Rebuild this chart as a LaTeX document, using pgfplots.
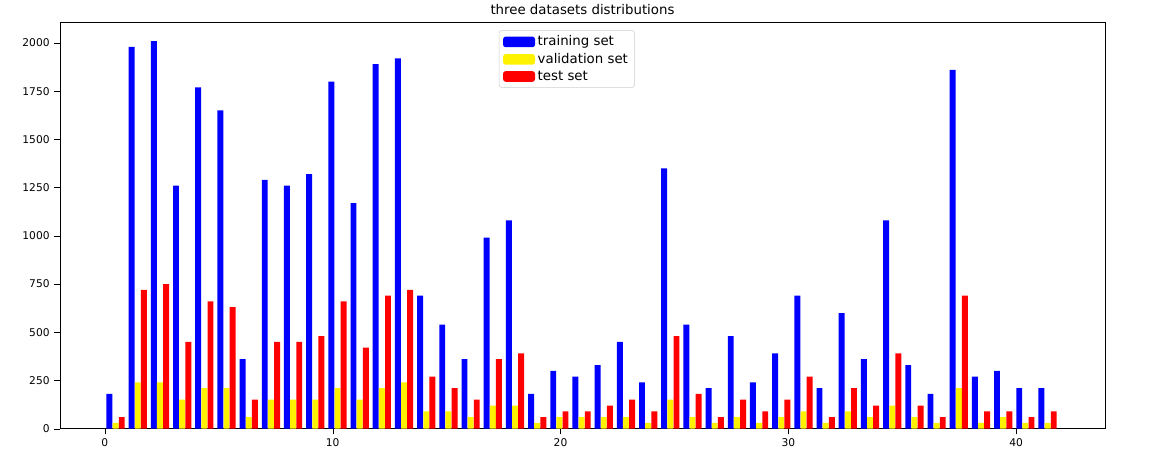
\documentclass[border=0pt]{standalone}
\usepackage{pgfplots}
\pgfplotsset{compat=1.18}
\usepackage{pgfplotstable}
\usepackage{fontspec}
\setmainfont{DejaVu Sans}
\pgfplotstableread{
train val test
180 30 60
1980 240 720
2010 240 750
1260 150 450
1770 210 660
1650 210 630
360 60 150
1290 150 450
1260 150 450
1320 150 480
1800 210 660
1170 150 420
1890 210 690
1920 240 720
690 90 270
540 90 210
360 60 150
990 120 360
1080 120 390
180 30 60
300 60 90
270 60 90
330 60 120
450 60 150
240 30 90
1350 150 480
540 60 180
210 30 60
480 60 150
240 30 90
390 60 150
690 90 270
210 30 60
599 90 210
360 60 120
1080 120 390
330 60 120
180 30 60
1860 210 690
270 30 90
300 60 90
210 30 60
210 30 90
}\data
\begin{document}
\begin{tikzpicture}
\path (-45pt,0) (820pt,0);
\begin{axis}[
  width=784pt, height=305pt, scale only axis,
  xmin=-1.97, xmax=43.9, ymin=0, ymax=2108,
  xtick={0,10,20,30,40}, ytick={0,250,500,750,1000,1250,1500,1750,2000},
  xtick pos=left, ytick pos=left,
  tick label style={font=\footnotesize}, /pgf/number format/assume math mode=true,
  /pgf/number format/1000 sep={},
  tick align=outside, tick style={black},
  title={three datasets distributions}, title style={font=\normalsize, yshift=-4pt},
  legend style={at={(0.485,0.98)}, anchor=north, font=\normalsize, draw=black!20, rounded corners=2pt, cells={anchor=west}},
]
\addplot[ybar, bar width=0.26, fill=blue, draw=none, legend image code/.code={\fill[blue] (0pt,-4pt) rectangle (24pt,4pt);}] table[x expr=\coordindex*0.974+0.2, y=train]{\data};
\addlegendentry{training set}
\addplot[ybar, bar width=0.26, fill=yellow, draw=none, legend image code/.code={\fill[yellow] (0pt,-4pt) rectangle (24pt,4pt);}] table[x expr=\coordindex*0.974+0.47, y=val]{\data};
\addlegendentry{validation set}
\addplot[ybar, bar width=0.26, fill=red, draw=none, legend image code/.code={\fill[red] (0pt,-4pt) rectangle (24pt,4pt);}] table[x expr=\coordindex*0.974+0.74, y=test]{\data};
\addlegendentry{test set}
\end{axis}
\end{tikzpicture}
\end{document}
